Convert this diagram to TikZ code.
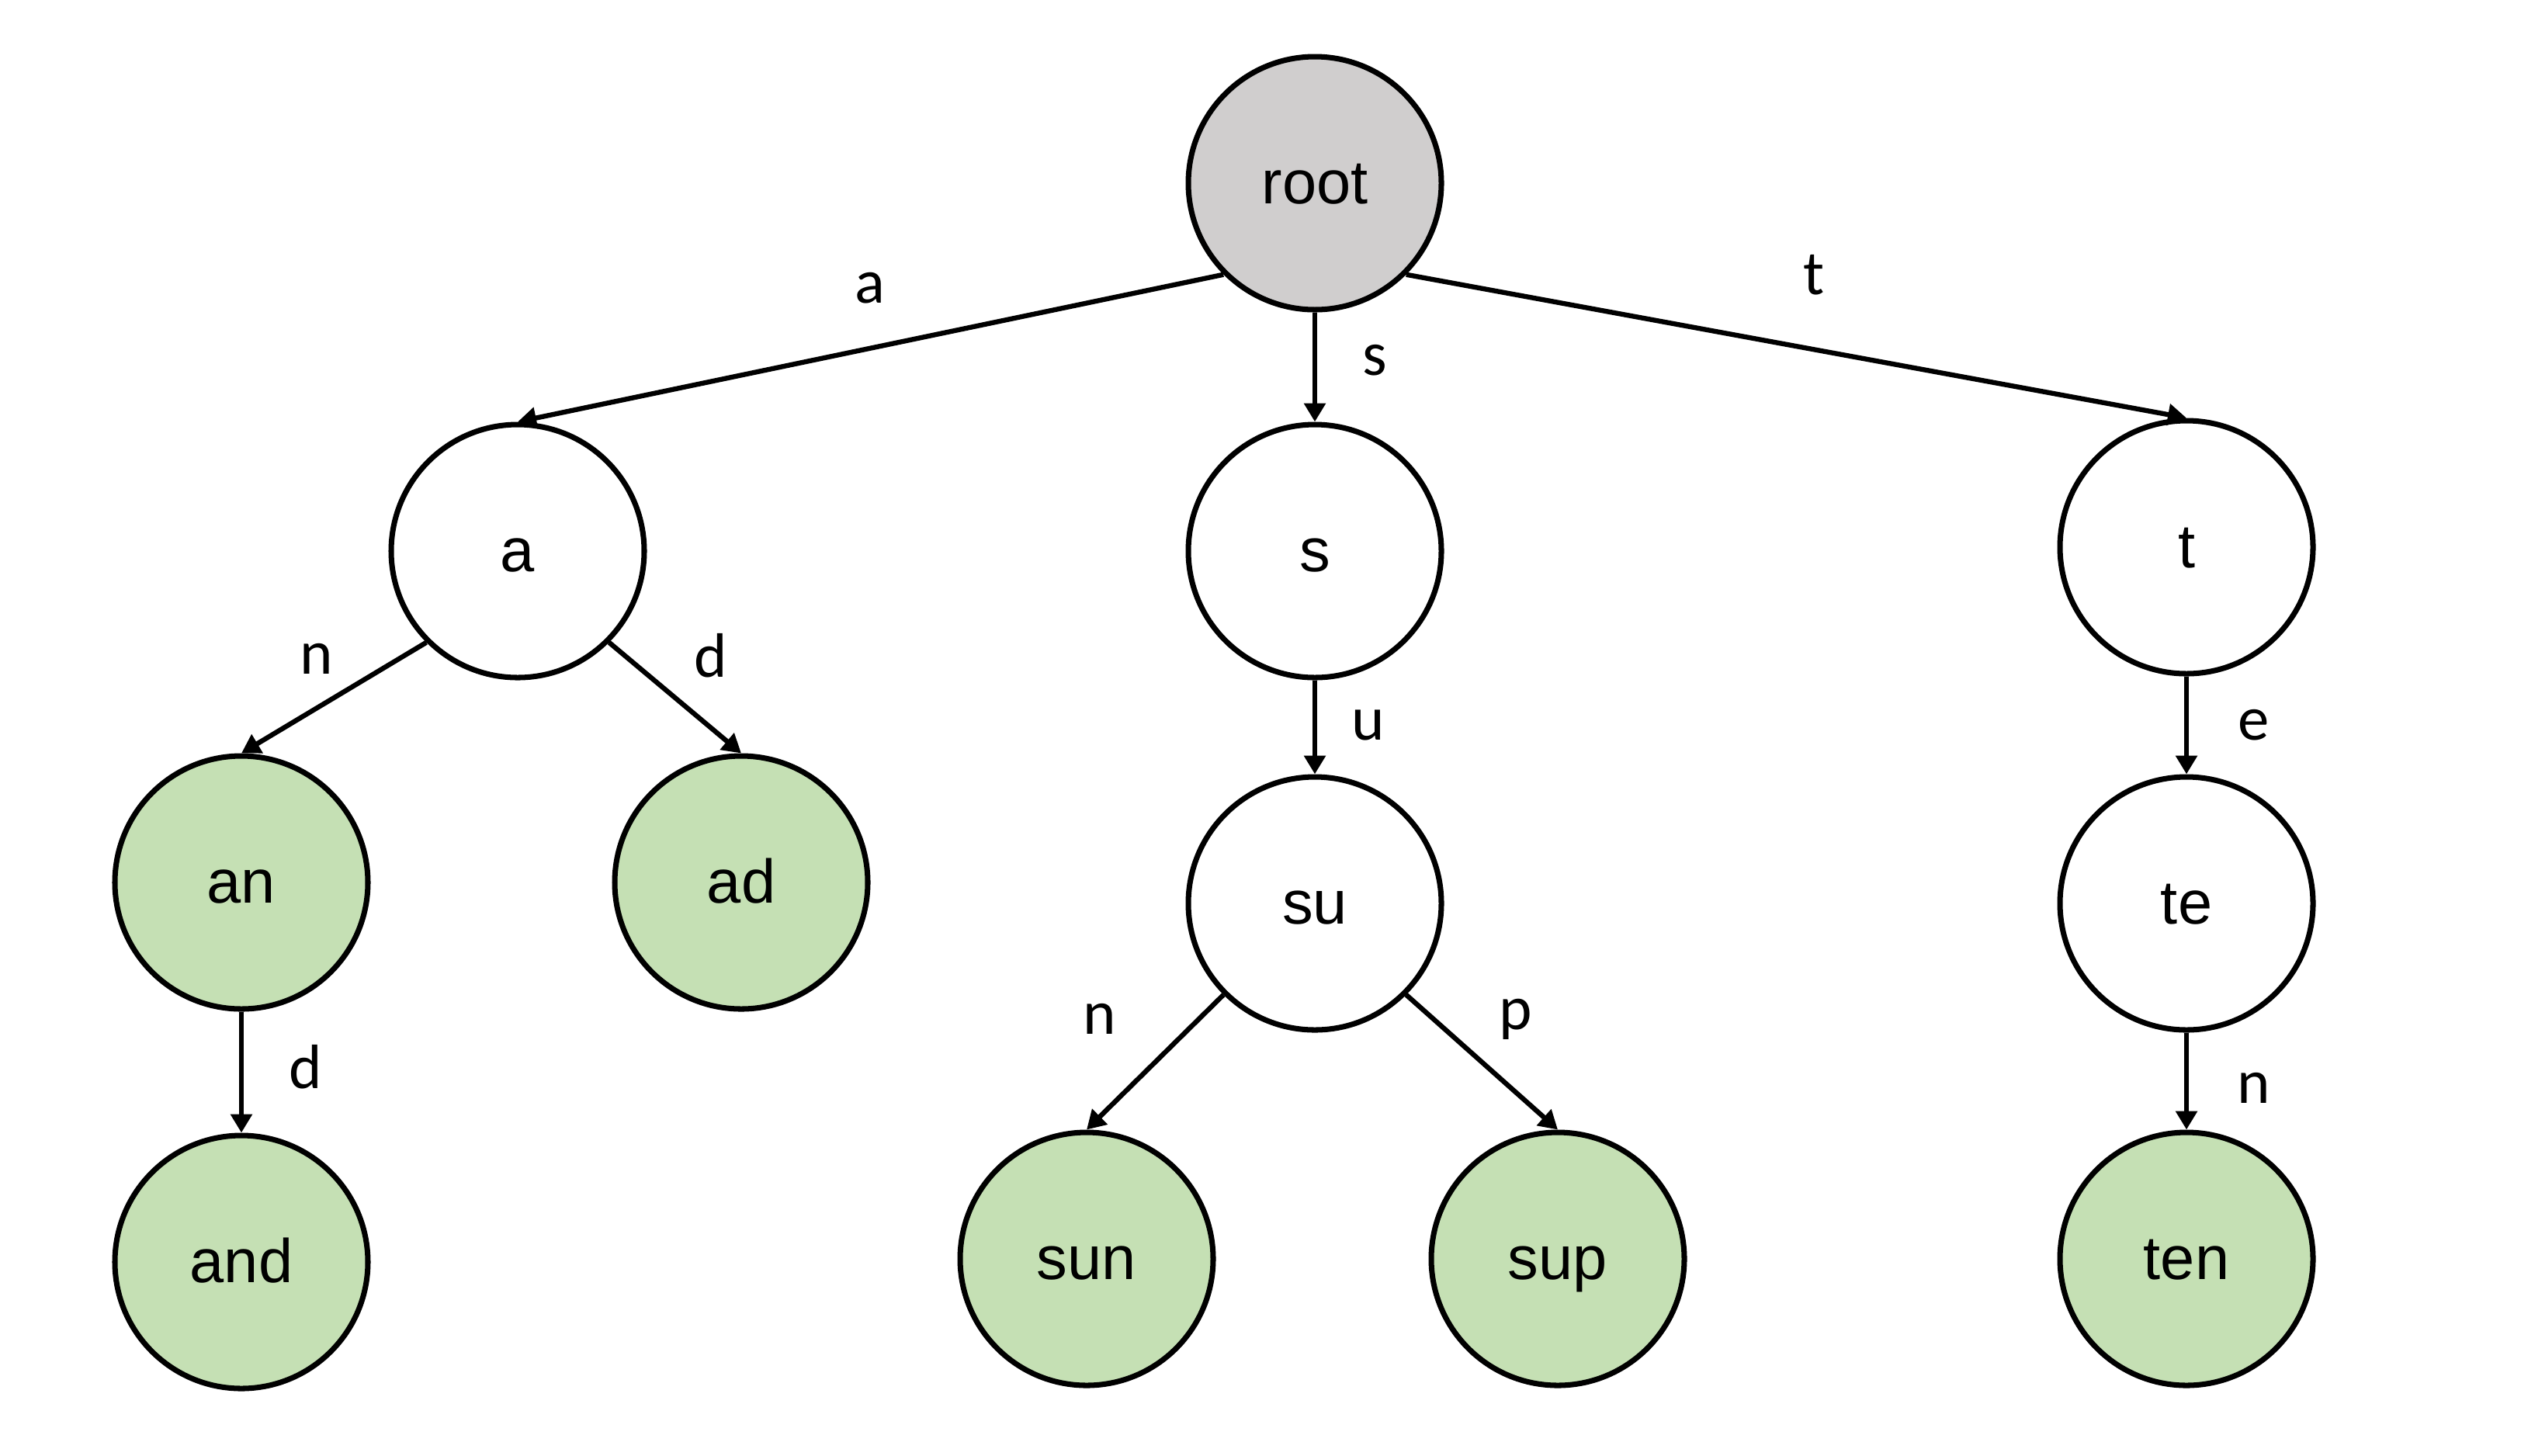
\documentclass[tikz,border=0pt]{standalone}
\usepackage{fontspec}
\setmainfont{Liberation Sans}
\newfontfamily\lblfont{Carlito}
\usetikzlibrary{arrows.meta}
\definecolor{rootgray}{HTML}{D0CECE}
\definecolor{leafgreen}{HTML}{C5E0B4}
\tikzset{
  trienode/.style={circle, draw=black, line width=2pt, minimum size=3.26cm, inner sep=0pt,
    text height=18pt, text depth=3.2pt,
    font=\fontsize{22.6}{27}\selectfont},
  rootnode/.style={trienode, fill=rootgray},
  leafnode/.style={trienode, fill=leafgreen},
  midnode/.style={trienode, fill=white},
  arr/.style={line width=1.8pt, -{Triangle[length=0.24cm,width=0.27cm]}},
  elabel/.style={font=\lblfont\fontsize{23}{27}\selectfont, inner sep=0pt}
}
\begin{document}
\begin{tikzpicture}
\useasboundingbox[fill=white] (0,0) rectangle (32.48,-18.75);
% nodes
\node[rootnode] (root) at (16.94,-2.36) {root};
\node[midnode] (a) at (6.67,-7.10) {a};
\node[midnode] (s) at (16.94,-7.10) {s};
\node[midnode] (t) at (28.17,-7.05) {t};
\node[leafnode] (an) at (3.11,-11.37) {an};
\node[leafnode] (ad) at (9.55,-11.37) {ad};
\node[midnode] (su) at (16.94,-11.64) {su};
\node[midnode] (te) at (28.17,-11.64) {te};
\node[leafnode] (and) at (3.11,-16.26) {and};
\node[leafnode] (sun) at (14.00,-16.22) {sun};
\node[leafnode] (sup) at (20.07,-16.22) {sup};
\node[leafnode] (ten) at (28.17,-16.22) {ten};
% connectors
\draw[arr] (root.south west) -- (a.north);
\draw[arr] (root.south) -- (s.north);
\draw[arr] (root.south east) -- (t.north);
\draw[arr] (a.south west) -- (an.north);
\draw[arr] (a.south east) -- (ad.north);
\draw[arr] (s.south) -- (su.north);
\draw[arr] (t.south) -- (te.north);
\draw[arr] (an.south) -- (and.north);
\draw[arr] (su.south west) -- (sun.north);
\draw[arr] (su.south east) -- (sup.north);
\draw[arr] (te.south) -- (ten.north);
% edge labels
\node[elabel] (la) at (11.21,-3.71) {a};
\node[elabel] (ls) at (17.71,-4.64) {s};
\node[elabel] (lt) at (23.37,-3.54) {t};
\node[elabel] (lan) at (4.08,-8.49) {n};
\node[elabel] (lad) at (9.16,-8.45) {d};
\node[elabel] (lsu) at (17.63,-9.34) {u};
\node[elabel] (lte) at (29.04,-9.34) {e};
\node[elabel] (land) at (3.94,-13.75) {d};
\node[elabel] (lsun) at (14.17,-13.13) {n};
\node[elabel] (lsup) at (19.53,-13.13) {p};
\node[elabel] (lten) at (29.04,-14.02) {n};
\end{tikzpicture}
\end{document}
